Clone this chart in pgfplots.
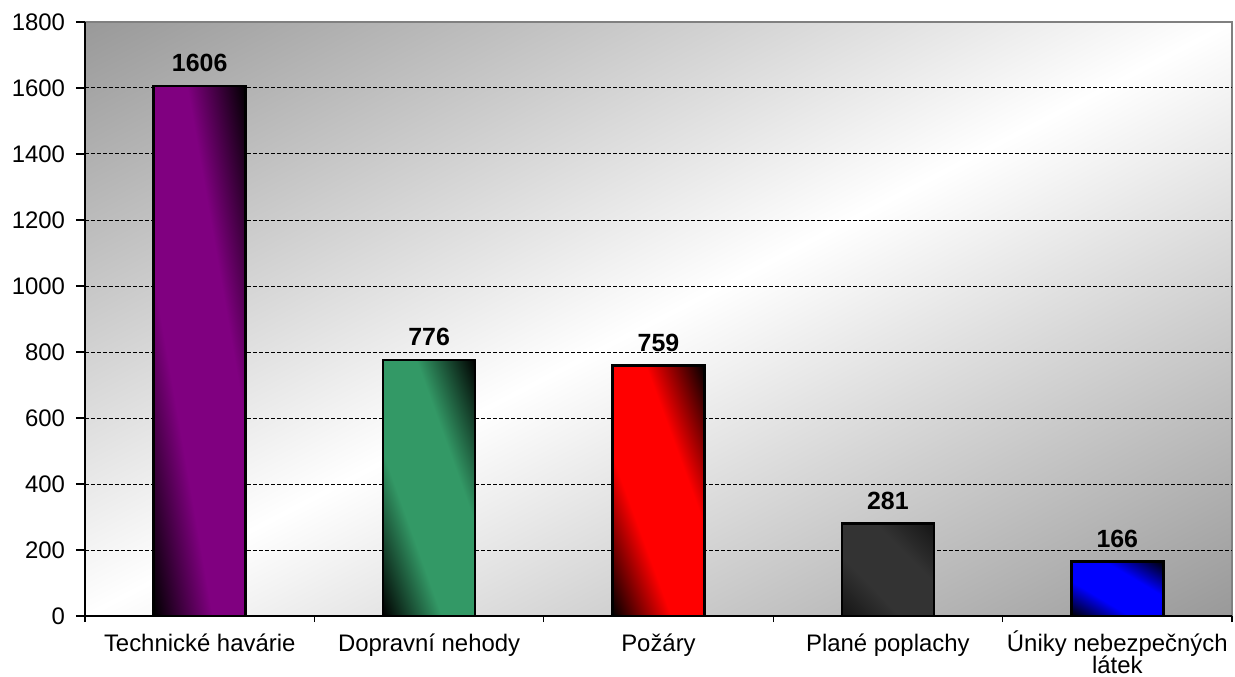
\documentclass[border=0pt]{standalone}
\usepackage{pgfplots}
\pgfplotsset{compat=1.18}
\usepackage{fontspec}
\setmainfont{Liberation Sans}
% background: grey (top-left) -> white (diagonal) -> grey (bottom-right)
\pgfdeclarefunctionalshading{bgshade}{\pgfpointorigin}{\pgfpoint{100bp}{100bp}}{}{%
  sub 50 add 100 div 2 mul 1 sub abs 0.4 mul 1 exch sub
  dup 0.6 lt {pop 0.6} if dup 1 gt {pop 1} if dup dup}
% bars: dark (bottom-left) -> colour -> dark (top-right)
\newcommand\barshade[5]{%
  \pgfdeclarefunctionalshading{#1}{\pgfpointorigin}{\pgfpoint{100bp}{100bp}}{}{%
    add 50 sub 100 div dup 0.32 div exch 1 exch sub 0.32 div
    2 copy gt {exch} if pop dup 1 gt {pop 1} if dup 0 lt {pop 0} if
    #5 mul 1 #5 sub add
    dup #2 mul exch dup #3 mul exch #4 mul}}
\barshade{shpurple}{0.502}{0}{0.502}{1}
\barshade{shgreen}{0.2}{0.6}{0.4}{1}
\barshade{shred}{1}{0}{0}{1}
\barshade{shdark}{0.2}{0.2}{0.2}{0.6}
\barshade{shblue}{0}{0}{1}{1}
\begin{document}
\begin{tikzpicture}
\begin{axis}[
  at={(0,0)}, anchor=south west,
  scale only axis, width=573.5bp, height=297bp,
  xmin=-0.5, xmax=4.5, ymin=0, ymax=1800,
  axis x line*=bottom, axis y line*=left,
  axis line style={black, line width=0.8bp, -},
  axis background/.style={shade, shading=bgshade, draw=gray, line width=0.8bp},
  ytick={0,200,...,1800},
  extra y ticks={200,400,...,1600},
  extra y tick labels={},
  extra y tick style={ymajorgrids=true, major tick length=0pt},
  major grid style={black, line width=0.5bp, dash pattern=on 2bp off 1bp},
  xtick={0,1,2,3,4},
  xticklabels={\rule{0pt}{11.5bp}Technické havárie, \rule{0pt}{11.5bp}Dopravní nehody, \rule{0pt}{11.5bp}Požáry, \rule{0pt}{11.5bp}Plané poplachy, {\rule{0pt}{11.5bp}Úniky nebezpečných\\látek}},
  minor xtick={-0.5,0.5,1.5,2.5,3.5,4.5},
  major x tick style={draw=none},
  minor x tick style={black, line width=0.6bp},
  minor tick length=3bp,
  y tick style={black, line width=0.6bp},
  major tick length=4.5bp,
  tick align=outside,
  /pgf/number format/1000 sep={},
  /pgf/number format/assume math mode=true,
  yticklabel style={font=\fontsize{12}{12}\selectfont, xshift=-2bp},
  xticklabel style={font=\fontsize{12}{11.5}\selectfont, align=center, anchor=north, yshift=2bp},
  ybar, bar width=46bp, bar shift=0pt,
  nodes near coords,
  every node near coord/.append style={font=\bfseries\fontsize{12.5}{12.5}\selectfont, yshift=3bp},
  clip=false,
]
\addplot[draw=black, line width=1.3bp, shading=shpurple] coordinates {(0,1606)};
\addplot[draw=black, line width=1.3bp, shading=shgreen] coordinates {(1,776)};
\addplot[draw=black, line width=1.3bp, shading=shred] coordinates {(2,759)};
\addplot[draw=black, line width=1.3bp, shading=shdark] coordinates {(3,281)};
\addplot[draw=black, line width=1.3bp, shading=shblue] coordinates {(4,166)};
\end{axis}
\pgfresetboundingbox
\path[use as bounding box] (-42.5bp,-30.5bp) rectangle (575bp,308bp);
\end{tikzpicture}
\end{document}
